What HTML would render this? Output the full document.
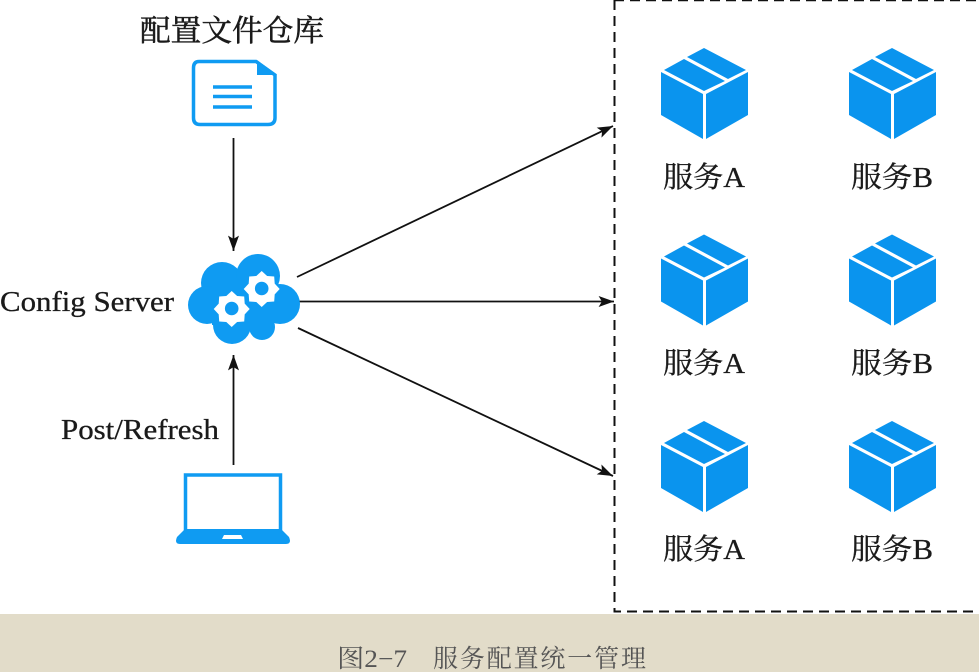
<!DOCTYPE html>
<html>
<head>
<meta charset="utf-8">
<style>
html,body{margin:0;padding:0;background:#fff;width:979px;height:672px;overflow:hidden}
svg{display:block}
.z{font-family:"Liberation Serif","Noto Serif CJK SC",serif;fill:#1a1a1a;stroke:#1a1a1a;stroke-width:.3}
</style>
</head>
<body>
<svg width="979" height="672" viewBox="0 0 979 672" xmlns="http://www.w3.org/2000/svg">
<defs>
<marker id="a" viewBox="0 0 14 10" refX="14" refY="5" markerWidth="16" markerHeight="11" markerUnits="userSpaceOnUse" orient="auto"><path d="M0 0L14 5L0 10L3 5Z" fill="#111"/></marker>
<g id="cube">
<path d="M661 72L703 94V139L661 115Z" fill="#0a94ee"/>
<path d="M706 94L748 72V115L706 139Z" fill="#0a94ee"/>
<path d="M664 70L684 59L725 81L704 91Z" fill="#0a94ee"/>
<path d="M687 57L704 48L746 70L728 79Z" fill="#0a94ee"/>
</g>
<g id="t1"><text x="663" y="187" class="z" font-size="29" textLength="82" lengthAdjust="spacingAndGlyphs">服务A</text></g>
<g id="t2"><text x="851" y="187" class="z" font-size="29" textLength="82" lengthAdjust="spacingAndGlyphs">服务B</text></g>
<polygon id="gear" points="0,-18 5.400,-13 12.500,-12.500 13,-5.400 18,0 13,5.400 12.500,12.500 5.400,13 0,18 -5.400,13 -12.500,12.500 -13,5.400 -18,0 -13,-5.400 -12.500,-12.500 -5.400,-13" fill="#fff"/>
</defs>
<rect width="979" height="672" fill="#fff"/>
<rect y="614" width="979" height="58" fill="#e2dcc9"/>

<text x="140" y="41" class="z" font-size="30" textLength="184" lengthAdjust="spacingAndGlyphs" style="stroke-width:.5">配置文件仓库</text>

<!-- doc -->
<path d="M199 61.500H256L275 75V118Q275 124.500 268 124.500H200Q193.500 124.500 193.500 118V68Q193.500 61.500 199 61.500Z" fill="#fff" stroke="#0f9bf2" stroke-width="3.500"/>
<path d="M257 60L277 75H257Z" fill="#0f9bf2"/>
<path d="M213 87H252M213 96.500H252M213 107H252" stroke="#0f9bf2" stroke-width="3.500" fill="none"/>

<!-- arrows -->
<g stroke="#111" stroke-width="1.800" fill="none" marker-end="url(#a)">
<line x1="233.500" y1="138" x2="233.500" y2="251"/>
<line x1="233.500" y1="465" x2="233.500" y2="355"/>
<line x1="299" y1="301.500" x2="614" y2="301.500"/>
<line x1="297" y1="277" x2="613" y2="126"/>
<line x1="298" y1="328" x2="613" y2="476"/>
</g>

<!-- cloud -->
<g fill="#0f9bf2">
<circle cx="222" cy="283" r="21"/>
<circle cx="258" cy="276" r="22"/>
<circle cx="207" cy="305" r="19"/>
<circle cx="280" cy="304" r="20"/>
<circle cx="232" cy="325" r="19"/>
<circle cx="262" cy="327" r="13"/>
<rect x="212" y="278" width="62" height="47"/>
</g>
<use href="#gear" x="231.700" y="309"/>
<use href="#gear" x="261.700" y="289"/>
<circle cx="231.700" cy="308.500" r="6.800" fill="#0f9bf2"/>
<circle cx="261.700" cy="288.500" r="6.800" fill="#0f9bf2"/>

<text x="0" y="311" class="z" font-size="28" textLength="174" lengthAdjust="spacingAndGlyphs">Config Server</text>
<text x="61" y="439" class="z" font-size="28" textLength="158" lengthAdjust="spacingAndGlyphs">Post/Refresh</text>

<!-- laptop -->
<rect x="185.500" y="475" width="95" height="56" fill="#fff" stroke="#0f9bf2" stroke-width="3.500"/>
<path d="M185 529H281L289 537Q292 544 286 544H180Q174 544 177 537Z" fill="#0f9bf2"/>
<path d="M224 535H241L243 539H222Z" fill="#fff"/>

<!-- dashed box -->
<path d="M614.500 0V611.500H979" fill="none" stroke="#111" stroke-width="2" stroke-dasharray="10 6"/>
<path d="M614 0.500H979" fill="none" stroke="#111" stroke-width="1.500" stroke-dasharray="10 6"/>

<!-- cubes -->
<use href="#cube"/>
<use href="#cube" x="188"/>
<use href="#cube" y="186.500"/>
<use href="#cube" x="188" y="186.500"/>
<use href="#cube" y="373"/>
<use href="#cube" x="188" y="373"/>

<use href="#t1"/>
<use href="#t2"/>
<use href="#t1" y="186"/>
<use href="#t2" y="186"/>
<use href="#t1" y="372"/>
<use href="#t2" y="372"/>

<text x="337" y="667" font-family="'Liberation Serif','Noto Serif CJK SC',serif" font-size="25" fill="#555" textLength="70" lengthAdjust="spacingAndGlyphs">图2−7</text>
<text x="433" y="667" font-family="'Liberation Serif','Noto Serif CJK SC',serif" font-size="25" fill="#555" textLength="213" lengthAdjust="spacing">服务配置统一管理</text>
</svg>
</body>
</html>
